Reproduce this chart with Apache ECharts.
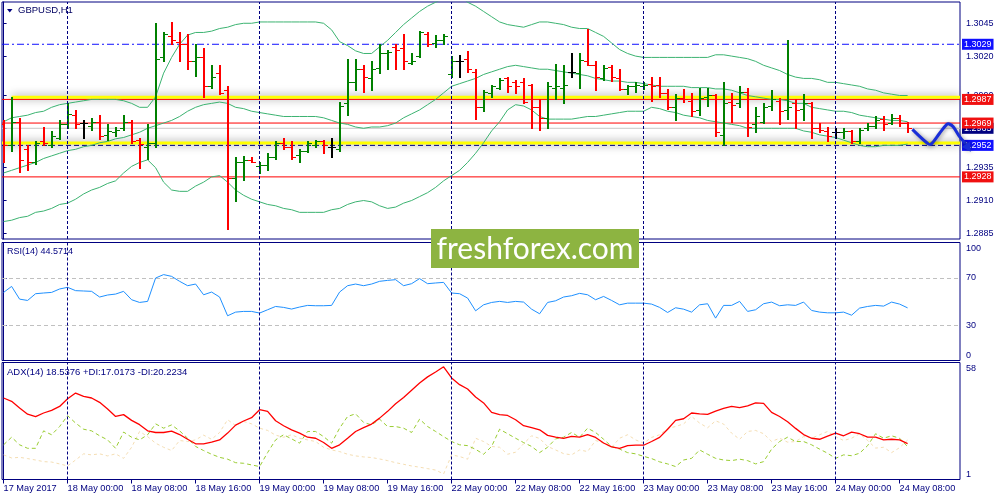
<!DOCTYPE html>
<html><head><meta charset="utf-8">
<script src="https://cdn.jsdelivr.net/npm/echarts@6/dist/echarts.min.js"></script>
<style>html,body{margin:0;padding:0;background:#fff}#c{width:1000px;height:500px}</style>
</head><body><div id="c"></div>
<script>
// ---------- data ----------
const timeTickIdx = [0, 8, 16, 24, 32, 40, 48, 56, 64, 72, 80, 88, 96, 104, 112];
const timeLabels = ['17 May 2017', '18 May 00:00', '18 May 08:00', '18 May 16:00', '19 May 00:00', '19 May 08:00', '19 May 16:00',
  '22 May 00:00', '22 May 08:00', '22 May 16:00', '23 May 00:00', '23 May 08:00', '23 May 16:00', '24 May 00:00', '24 May 08:00'];
const dayStartIdx = [8, 32, 56, 80, 104];
const priceTicks = [1.2885, 1.2910, 1.2935, 1.2965, 1.2990, 1.3020, 1.3045];
const rsiTicks = [0, 30, 70, 100];
const adxTicks = [1, 58];

const opens = [1.2968,1.2952,1.2970,1.2949,1.2939,1.2955,1.2952,1.2958,1.2968,1.2975,
1.2969,1.2967,1.2970,1.2960,1.2962,1.2965,1.2970,1.2956,1.2951,1.2954,
1.3019,1.3035,1.3031,1.3029,1.3016,1.3019,1.2997,1.3007,1.2994,1.2927,
1.2939,1.2941,1.2936,1.2937,1.2943,1.2954,1.2951,1.2945,1.2948,1.2952,
1.2955,1.2951,1.2949,1.2984,1.3000,1.3010,1.3003,1.3011,1.3022,1.3027,
1.3026,1.3015,1.3020,1.3037,1.3030,1.3032,1.3006,1.3016,1.3018,1.3008,
1.2981,1.2992,1.2996,1.3003,1.3000,1.3000,1.2998,1.2981,1.2973,1.2996,
1.2996,1.3008,1.3007,1.3016,1.3013,1.3003,1.3012,1.3003,1.2995,1.2997,
1.2997,1.2999,1.2998,1.2992,1.2981,1.2988,1.2986,1.2979,1.2989,1.2990,
1.2960,1.2985,1.2984,1.2993,1.2968,1.2970,1.2982,1.2986,1.2979,1.2984,
1.2980,1.2984,1.2965,1.2963,1.2962,1.2962,1.2963,1.2955,1.2965,1.2967,
1.2972,1.2969,1.2973,1.2969];
const highs = [1.2971,1.2989,1.2973,1.2952,1.2955,1.2966,1.2963,1.2971,1.2984,1.2979,
1.2971,1.2973,1.2975,1.2968,1.2966,1.2975,1.2971,1.2958,1.2968,1.3045,
1.3038,1.3046,1.3038,1.3037,1.3029,1.3026,1.3013,1.3013,1.2997,1.2943,
1.2944,1.2943,1.2939,1.2946,1.2955,1.2958,1.2955,1.2949,1.2955,1.2956,
1.2956,1.2958,1.2985,1.3018,1.3018,1.3013,1.3016,1.3029,1.3025,1.3029,
1.3037,1.3022,1.3039,1.3038,1.3036,1.3037,1.3020,1.3021,1.3024,1.3010,
1.2994,1.2998,1.3003,1.3004,1.3002,1.3003,1.2999,1.2987,1.3000,1.3014,
1.3013,1.3022,1.3022,1.3041,1.3016,1.3013,1.3013,1.3010,1.2998,1.3000,
1.3000,1.3004,1.3004,1.2995,1.2991,1.2995,1.2992,1.2996,1.2996,1.2991,
1.3000,1.2992,1.2997,1.2996,1.2981,1.2984,1.2994,1.2988,1.3032,1.2987,
1.2991,1.2985,1.2969,1.2966,1.2965,1.2965,1.2964,1.2965,1.2969,1.2974,
1.2974,1.2976,1.2975,1.2970];
const lows = [1.2939,1.2948,1.2932,1.2933,1.2938,1.2952,1.2951,1.2957,1.2965,1.2965,
1.2958,1.2964,1.2957,1.2956,1.2959,1.2964,1.2954,1.2935,1.2942,1.2951,
1.3016,1.3029,1.3016,1.3010,1.3005,1.2989,1.2996,1.2991,1.2888,1.2910,
1.2926,1.2939,1.2931,1.2933,1.2942,1.2949,1.2942,1.2939,1.2947,1.2951,
1.2946,1.2943,1.2948,1.2975,1.2994,1.2993,1.2994,1.3007,1.3010,1.3010,
1.3010,1.3014,1.3019,1.3028,1.3027,1.3029,1.3004,1.3004,1.3008,1.2972,
1.2978,1.2989,1.2995,1.2993,1.2992,1.2984,1.2965,1.2964,1.2965,1.2987,
1.2984,1.3004,1.2996,1.3013,1.2994,1.3002,1.3001,1.2994,1.2991,1.2993,
1.2995,1.2986,1.2989,1.2980,1.2971,1.2985,1.2974,1.2975,1.2982,1.2959,
1.2952,1.2970,1.2981,1.2959,1.2962,1.2969,1.2979,1.2968,1.2972,1.2965,
1.2971,1.2958,1.2962,1.2955,1.2958,1.2958,1.2954,1.2954,1.2964,1.2965,
1.2964,1.2968,1.2967,1.2962];
const closes = [1.2952,1.2970,1.2941,1.2939,1.2954,1.2954,1.2959,1.2968,1.2976,1.2968,
1.2969,1.2970,1.2959,1.2963,1.2964,1.2970,1.2955,1.2953,1.2954,1.3018,
1.3037,1.3032,1.3029,1.3016,1.3019,1.2997,1.3004,1.2992,1.2927,1.2939,
1.2941,1.2939,1.2937,1.2943,1.2954,1.2951,1.2943,1.2948,1.2954,1.2955,
1.2952,1.2951,1.2982,1.3000,1.3010,1.3004,1.3010,1.3022,1.3023,1.3025,
1.3016,1.3016,1.3038,1.3029,1.3032,1.3035,1.3016,1.3016,1.3010,1.2981,
1.2993,1.2997,1.3002,1.2997,1.2997,1.2985,1.2981,1.2973,1.2997,1.2997,
1.2998,1.3008,1.3017,1.3013,1.3004,1.3011,1.3004,1.2995,1.2997,1.2998,
1.2998,1.2997,1.2992,1.2981,1.2988,1.2987,1.2978,1.2988,1.2990,1.2962,
1.2984,1.2983,1.2993,1.2966,1.2974,1.2981,1.2987,1.2978,1.2981,1.2979,
1.2984,1.2965,1.2964,1.2959,1.2962,1.2963,1.2955,1.2964,1.2967,1.2971,
1.2968,1.2973,1.2969,1.2965];

const bbUpper = [1.2970,1.2973,1.2974,1.2975,1.2977,1.2978,1.2981,1.2983,1.2984,1.2985,
1.2986,1.2987,1.2987,1.2987,1.2987,1.2986,1.2984,1.2981,1.2981,1.2989,
1.3007,1.3019,1.3029,1.3036,1.3038,1.3038,1.3039,1.3041,1.3042,1.3044,
1.3045,1.3045,1.3046,1.3046,1.3046,1.3046,1.3046,1.3046,1.3046,1.3046,
1.3045,1.3040,1.3031,1.3028,1.3024,1.3022,1.3022,1.3027,1.3032,1.3038,
1.3044,1.3049,1.3054,1.3058,1.3061,1.3064,1.3067,1.3066,1.3061,1.3058,
1.3054,1.3050,1.3046,1.3044,1.3043,1.3042,1.3044,1.3046,1.3046,1.3045,
1.3044,1.3042,1.3041,1.3041,1.3038,1.3035,1.3030,1.3025,1.3022,1.3020,
1.3019,1.3019,1.3019,1.3019,1.3019,1.3019,1.3019,1.3019,1.3019,1.3021,
1.3021,1.3020,1.3019,1.3018,1.3016,1.3013,1.3011,1.3009,1.3006,1.3004,
1.3003,1.3003,1.3002,1.3000,1.3000,1.2999,1.2998,1.2997,1.2995,1.2994,
1.2992,1.2991,1.2990,1.2990];
const bbMiddle = [1.2931,1.2933,1.2935,1.2937,1.2939,1.2942,1.2944,1.2946,1.2948,1.2949,
1.2951,1.2952,1.2954,1.2955,1.2957,1.2958,1.2960,1.2962,1.2965,1.2967,
1.2969,1.2971,1.2974,1.2978,1.2981,1.2983,1.2984,1.2985,1.2984,1.2981,
1.2980,1.2978,1.2977,1.2976,1.2975,1.2974,1.2974,1.2974,1.2974,1.2974,
1.2973,1.2971,1.2969,1.2968,1.2966,1.2965,1.2966,1.2966,1.2967,1.2969,
1.2973,1.2976,1.2979,1.2983,1.2987,1.2992,1.2997,1.2999,1.3001,1.3003,
1.3006,1.3008,1.3010,1.3012,1.3013,1.3012,1.3011,1.3010,1.3010,1.3009,
1.3008,1.3007,1.3006,1.3005,1.3003,1.3002,1.3001,1.3001,1.3000,1.3000,
1.2999,1.2998,1.2997,1.2997,1.2997,1.2997,1.2996,1.2996,1.2996,1.2995,
1.2995,1.2994,1.2992,1.2990,1.2989,1.2988,1.2987,1.2987,1.2986,1.2984,
1.2984,1.2981,1.2980,1.2979,1.2978,1.2978,1.2977,1.2975,1.2974,1.2973,
1.2972,1.2971,1.2971,1.2970];
const bbLower = [1.2894,1.2895,1.2897,1.2898,1.2901,1.2902,1.2904,1.2907,1.2908,1.2911,
1.2915,1.2918,1.2920,1.2923,1.2925,1.2931,1.2936,1.2939,1.2941,1.2935,
1.2924,1.2918,1.2917,1.2917,1.2921,1.2924,1.2928,1.2929,1.2924,1.2918,
1.2914,1.2911,1.2909,1.2907,1.2906,1.2904,1.2903,1.2901,1.2901,1.2901,
1.2901,1.2903,1.2904,1.2907,1.2909,1.2910,1.2909,1.2906,1.2904,1.2905,
1.2908,1.2910,1.2913,1.2916,1.2920,1.2925,1.2929,1.2933,1.2939,1.2946,
1.2954,1.2963,1.2970,1.2979,1.2983,1.2982,1.2979,1.2974,1.2972,1.2972,
1.2972,1.2972,1.2973,1.2974,1.2974,1.2975,1.2976,1.2977,1.2978,1.2978,
1.2978,1.2981,1.2980,1.2978,1.2977,1.2975,1.2974,1.2973,1.2971,1.2970,
1.2969,1.2968,1.2967,1.2965,1.2965,1.2965,1.2965,1.2965,1.2965,1.2965,
1.2963,1.2962,1.2960,1.2959,1.2958,1.2956,1.2954,1.2952,1.2951,1.2951,
1.2952,1.2952,1.2952,1.2953];

const rsi = [57.7,62.8,52.0,50.9,56.6,57.2,57.7,60.6,62.0,59.2,
58.9,58.6,53.8,55.5,56.3,58.6,51.5,49.2,50.1,69.9,
72.8,71.3,67.1,63.4,64.8,55.7,58.0,53.8,37.9,41.0,
41.6,41.6,40.2,43.0,45.8,45.0,43.6,45.3,46.7,46.4,
46.4,46.7,58.0,63.4,64.8,63.4,64.8,67.1,67.9,68.5,
63.4,65.1,69.4,65.1,65.7,66.2,57.2,56.6,52.9,42.1,
47.2,49.2,50.1,49.2,50.1,49.5,43.5,39.6,49.2,50.6,
53.8,54.9,56.9,55.7,51.5,54.3,50.9,47.2,48.6,48.6,
48.6,47.8,45.0,40.7,44.7,43.5,41.0,47.2,48.1,35.9,
46.7,46.7,50.1,41.6,43.0,48.1,49.5,46.4,47.2,46.7,
49.5,42.4,41.0,40.4,40.4,41.0,38.4,44.4,45.8,46.7,
46.1,49.5,47.8,44.6];
const adx = [40.7,39.1,35.8,32.8,31.6,33.4,34.7,36.6,40.3,43.1,
41.5,40.7,38.6,35.3,31.7,32.6,29.8,27.7,24.7,23.9,
23.9,24.6,22.9,20.6,18.4,18.4,19.2,20.3,23.6,27.5,
29.5,31.1,35.0,34.2,29.6,27.2,25.2,23.6,21.6,21.1,
19.0,16.2,17.9,21.1,24.4,26.3,28.0,30.9,34.2,37.9,
41.0,44.5,48.0,51.0,53.4,55.9,50.5,47.2,45.1,41.2,
38.3,33.7,32.6,32.2,30.1,27.2,26.3,25.2,22.5,21.6,
21.0,22.0,21.6,22.9,21.5,18.8,16.9,16.2,17.5,17.7,
17.7,19.5,21.5,25.5,29.8,30.6,33.4,33.0,32.7,34.3,
35.6,36.6,36.0,36.9,38.3,38.1,33.7,31.7,29.1,25.9,
22.9,21.1,20.6,22.1,23.6,22.3,24.1,23.3,21.6,21.6,
20.3,20.6,20.3,18.5];
const plusDI = [17.9,21.6,17.9,16.2,16.2,24.7,22.8,26.8,32.1,28.5,
25.5,24.7,22.3,20.3,16.2,24.1,21.6,20.3,22.8,28.1,
26.0,27.6,24.7,21.1,17.1,15.1,13.3,11.8,10.9,9.2,
8.9,8.1,7.3,14.1,20.3,22.8,20.8,18.7,24.4,24.4,
21.9,18.7,26.0,31.7,33.0,28.8,27.6,30.4,26.8,26.8,
26.0,23.9,30.4,26.8,24.4,21.9,19.5,17.9,17.5,15.7,
13.3,17.1,25.5,23.3,21.1,19.0,17.1,14.1,16.7,20.8,
21.6,23.9,21.6,26.0,23.9,20.6,17.1,15.8,14.1,13.5,
12.3,11.2,9.6,8.6,7.3,10.5,11.3,15.4,13.3,11.3,
10.5,10.2,10.9,10.2,8.6,9.7,15.8,19.5,21.6,19.5,
19.5,17.9,15.8,13.8,11.3,13.0,12.6,13.8,17.5,23.3,
21.1,22.3,21.1,17.0];
const minusDI = [13.0,11.5,11.8,11.2,10.5,9.7,9.5,8.6,7.6,10.5,
13.5,13.0,13.5,12.5,13.5,11.3,16.7,24.4,21.9,18.7,
16.7,15.1,20.0,19.5,20.3,22.6,20.6,23.9,30.1,27.3,
29.3,28.1,26.0,24.9,22.6,21.6,22.8,21.1,20.3,19.5,
16.7,15.4,14.6,13.3,12.5,12.0,11.7,11.0,10.2,9.2,
8.4,7.6,7.0,6.3,5.6,3.7,13.0,12.2,10.9,21.1,
19.5,17.1,16.7,13.3,14.3,18.4,22.3,21.0,17.1,15.4,
13.6,13.0,15.4,14.6,20.0,18.7,16.7,21.1,22.8,20.3,
18.7,21.5,22.8,25.9,26.8,28.1,31.7,28.5,26.2,29.6,
28.0,23.6,20.6,24.4,24.9,23.3,19.5,21.1,19.2,19.5,
21.9,21.1,22.8,24.4,21.9,20.0,21.1,23.3,20.0,16.3,
16.7,14.1,16.5,20.2];

// horizontal levels
const levelBlueTop = 1.3029;
const levelRedTop = 1.2987;
const levelYellowTop = 1.29886;
const levelRedMid = 1.2969;
const levelBid = 1.2965;
const levelYellowLow = 1.29538;
const levelBlueLow = 1.2952;
const levelRedLow = 1.2928;
const yellowTopStartIdx = 1;

// hand-drawn arrow (bar index, price)
const arrowIdx = [113.6, 115.4, 115.9, 117.0, 117.9, 118.2, 118.7, 119.5, 120.2];
const arrowPrice = [1.29642, 1.29540, 1.29528, 1.29612, 1.29680, 1.29683, 1.29662, 1.29586, 1.29536];
const arrowTip = [120.9, 1.29472];

// ---------- chart ----------
const NAVY = '#000080';
const FONT = 'Liberation Sans';
const X_MIN = -0.2, X_MAX = 119.55;
const pairs = arr => arr.map((v, i) => [i, v]);
const barData = opens.map((o, i) => [i, o, highs[i], lows[i], closes[i]]);

const chart = echarts.init(document.getElementById('c'), null, { renderer: 'canvas' });

function renderBar(params, api) {
  const i = api.value(0), o = api.value(1), h = api.value(2), l = api.value(3), c = api.value(4);
  const pH = api.coord([i, h]), pL = api.coord([i, l]), pO = api.coord([i, o]), pC = api.coord([i, c]);
  const color = c > o ? '#008000' : (c < o ? '#ff0000' : '#000000');
  const x = Math.round(pH[0]);
  const yo = Math.round(pO[1]) + 0.5, yc = Math.round(pC[1]) + 0.5;
  return {
    type: 'group',
    children: [
      { type: 'line', shape: { x1: x, y1: Math.round(pH[1]), x2: x, y2: Math.round(pL[1]) + 1 }, style: { stroke: color, lineWidth: 2 } },
      { type: 'line', shape: { x1: x - 4, y1: yo, x2: x - 1, y2: yo }, style: { stroke: color, lineWidth: 1 } },
      { type: 'line', shape: { x1: x + 1, y1: yc, x2: x + 4, y2: yc }, style: { stroke: color, lineWidth: 1 } }
    ]
  };
}

// horizontal level drawn as a two-point line series, price box via endLabel
function hLevel(name, value, xStart, lineStyle, labelBg, z) {
  return {
    name: name, type: 'line', xAxisIndex: 0, yAxisIndex: 0, silent: true, z: z,
    data: [[xStart, value], [X_MAX, value]], symbol: 'none', clip: false,
    color: lineStyle.color, lineStyle: lineStyle,
    endLabel: labelBg ? {
      show: true, distance: 2, formatter: p => Number(p.value[1]).toFixed(4),
      backgroundColor: labelBg, color: '#ffffff', padding: [1, 2, 0, 2],
      fontSize: 9, fontFamily: FONT, lineHeight: 10
    } : { show: false }
  };
}
function dayLines(gi, z) {
  return {
    name: 'day separators ' + gi, type: 'line', xAxisIndex: gi, yAxisIndex: gi, data: [], silent: true, z: z,
    markLine: {
      symbol: ['none', 'none'], silent: true, animation: false, precision: 3, label: { show: false },
      lineStyle: { color: NAVY, width: 1, type: [3, 2], opacity: 1 },
      data: dayStartIdx.map(v => ({ xAxis: v }))
    }
  };
}
const yellowStyle = { color: '#ffff00', width: 3, type: 'solid', opacity: 1, shadowBlur: 8, shadowColor: 'rgba(0,0,0,0.5)' };

const yAxisCommon = {
  type: 'value', position: 'right', scale: false,
  axisLine: { show: true, lineStyle: { color: NAVY, width: 1 } },
  splitLine: { show: false }
};
const tickLabel = (vals, fmt, extra) => Object.assign({
  customValues: vals, formatter: fmt, fontSize: 9, fontFamily: FONT, color: NAVY, margin: 6
}, extra || {});

const option = {
  animation: false,
  backgroundColor: '#ffffff',
  title: [
    { text: 'GBPUSD,H1', left: 18, top: 5, padding: 0, textStyle: { fontSize: 9.5, color: '#000060', fontWeight: 'normal', fontFamily: FONT } },
    { text: 'RSI(14) 44.5714', left: 7, top: 247, padding: 0, textStyle: { fontSize: 9, color: NAVY, fontWeight: 'normal', fontFamily: FONT } },
    { text: 'ADX(14) 18.5376 +DI:17.0173 -DI:20.2234', left: 7, top: 367, padding: 0, textStyle: { fontSize: 9.5, color: NAVY, fontWeight: 'normal', fontFamily: FONT } }
  ],
  grid: [
    { left: 2, top: 2, width: 958, height: 237 },
    { left: 2, top: 242.5, width: 958, height: 118 },
    { left: 2, top: 362.5, width: 958, height: 117 }
  ].map(g => Object.assign(g, { show: true, borderColor: NAVY, borderWidth: 1, backgroundColor: '#ffffff' })),
  xAxis: [0, 1, 2].map(gi => ({
    type: 'value', gridIndex: gi, min: X_MIN, max: X_MAX,
    axisLine: { show: false }, splitLine: { show: false },
    axisTick: gi === 2 ? { show: true, customValues: timeTickIdx, length: 4, lineStyle: { color: NAVY } } : { show: false },
    axisLabel: gi === 2 ? {
      show: true, customValues: timeTickIdx,
      formatter: v => timeLabels[timeTickIdx.indexOf(Math.round(v))] || '',
      align: 'left', margin: 4, fontSize: 9.2, fontFamily: FONT, color: NAVY
    } : { show: false }
  })),
  yAxis: [
    Object.assign({}, yAxisCommon, {
      gridIndex: 0, min: 1.28807, max: 1.30612,
      axisTick: { show: true, customValues: priceTicks, length: 3, lineStyle: { color: NAVY } },
      axisLabel: tickLabel(priceTicks, v => v.toFixed(4))
    }),
    Object.assign({}, yAxisCommon, {
      gridIndex: 1, min: 0, max: 100,
      axisTick: { show: true, customValues: rsiTicks, length: 3, lineStyle: { color: NAVY } },
      axisLabel: tickLabel(rsiTicks, v => String(Math.round(v)), { verticalAlignMinLabel: 'bottom', verticalAlignMaxLabel: 'top', padding: [2, 0, 0, 0] })
    }),
    Object.assign({}, yAxisCommon, {
      gridIndex: 2, min: 1, max: 58,
      axisTick: { show: true, customValues: adxTicks, length: 3, lineStyle: { color: NAVY } },
      axisLabel: tickLabel(adxTicks, v => String(Math.round(v)), { verticalAlignMinLabel: 'bottom', verticalAlignMaxLabel: 'top', padding: [2, 0, 0, 0] })
    })
  ],
  series: [
    hLevel('yellow top', levelYellowTop, yellowTopStartIdx, yellowStyle, null, 1),
    hLevel('yellow low', levelYellowLow, X_MIN, yellowStyle, null, 1),
    dayLines(0, 2),
    hLevel('bid', levelBid, X_MIN, { color: '#c8c8c8', width: 1, type: 'solid' }, '#000080', 2),
    hLevel('blue top', levelBlueTop, X_MIN, { color: '#1010ff', width: 1, type: [7, 3, 2, 3] }, '#1010ff', 2),
    hLevel('red top', levelRedTop, X_MIN, { color: '#ff0000', width: 1, type: 'solid' }, '#f01010', 2),
    hLevel('red mid', levelRedMid, X_MIN, { color: '#ff0000', width: 1, type: 'solid' }, '#f01010', 2),
    hLevel('navy low', levelBlueLow, X_MIN, { color: NAVY, width: 1, type: [5, 3] }, '#1010ff', 2),
    hLevel('red low', levelRedLow, X_MIN, { color: '#ff0000', width: 1, type: 'solid' }, '#f01010', 2),
    { name: 'BB upper', type: 'line', xAxisIndex: 0, yAxisIndex: 0, data: pairs(bbUpper), symbol: 'none', lineStyle: { color: '#3cb371', width: 1 }, z: 3 },
    { name: 'BB middle', type: 'line', xAxisIndex: 0, yAxisIndex: 0, data: pairs(bbMiddle), symbol: 'none', lineStyle: { color: '#3cb371', width: 1 }, z: 3 },
    { name: 'BB lower', type: 'line', xAxisIndex: 0, yAxisIndex: 0, data: pairs(bbLower), symbol: 'none', lineStyle: { color: '#3cb371', width: 1 }, z: 3 },
    { name: 'GBPUSD', type: 'custom', xAxisIndex: 0, yAxisIndex: 0, data: barData, renderItem: renderBar, clip: true, z: 4,
      encode: { x: 0, y: [1, 2, 3, 4] } },
    {
      name: 'rsi levels', type: 'line', xAxisIndex: 1, yAxisIndex: 1, data: [], silent: true, z: 1,
      markLine: { symbol: ['none', 'none'], silent: true, animation: false, precision: 3, label: { show: false },
        lineStyle: { color: '#c0c0c0', width: 1, type: [4, 3], opacity: 1 }, data: [{ yAxis: 30 }, { yAxis: 70 }] }
    },
    dayLines(1, 2),
    { name: 'RSI', type: 'line', xAxisIndex: 1, yAxisIndex: 1, data: pairs(rsi), symbol: 'none', lineStyle: { color: '#1e90ff', width: 1 }, z: 3 },
    dayLines(2, 1),
    { name: '-DI', type: 'line', xAxisIndex: 2, yAxisIndex: 2, data: pairs(minusDI), symbol: 'none', lineStyle: { color: '#f5deb3', width: 1, type: [3, 3] }, z: 2 },
    { name: '+DI', type: 'line', xAxisIndex: 2, yAxisIndex: 2, data: pairs(plusDI), symbol: 'none', lineStyle: { color: '#9acd32', width: 1, type: [4, 3] }, z: 3 },
    { name: 'ADX', type: 'line', xAxisIndex: 2, yAxisIndex: 2, data: pairs(adx), symbol: 'none', lineStyle: { color: '#ff0000', width: 1.3 }, z: 4 }
  ]
};
chart.setOption(option);

// annotations: arrow, watermark, title triangle
const px = (i, p) => chart.convertToPixel({ gridIndex: 0 }, [i, p]);
const arrowPts = arrowIdx.map((v, k) => px(v, arrowPrice[k]));
const tip = px(arrowTip[0], arrowTip[1]);
const prev = arrowPts[arrowPts.length - 1];
let dx = tip[0] - prev[0], dy = tip[1] - prev[1];
const len = Math.hypot(dx, dy); dx /= len; dy /= len;
const bx = tip[0] - 9 * dx, by = tip[1] - 9 * dy;
const head = [[tip[0], tip[1]], [bx - 5 * dy, by + 5 * dx], [bx + 5 * dy, by - 5 * dx]];

chart.setOption({
  graphic: [
    { type: 'polygon', z: 100, shape: { points: [[7, 9], [12.5, 9], [9.75, 12.5]] }, style: { fill: NAVY } },
    { type: 'polyline', z: 100, shape: { points: arrowPts.concat([[bx, by]]), smooth: 0.35 },
      style: { stroke: '#1a2ed8', lineWidth: 3, fill: null, shadowBlur: 4, shadowColor: 'rgba(0,0,0,0.4)', shadowOffsetX: 1, shadowOffsetY: 1 } },
    { type: 'polygon', z: 100, shape: { points: head }, style: { fill: '#1a2ed8', shadowBlur: 4, shadowColor: 'rgba(0,0,0,0.4)' } },
    { type: 'rect', z: 100, shape: { x: 431, y: 229, width: 208, height: 39 }, style: { fill: '#8db441' } },
    { type: 'text', z: 101, x: 535, y: 249, style: { text: 'freshforex.com', fill: '#ffffff', fontSize: 30, fontFamily: 'Lato', align: 'center', verticalAlign: 'middle' } }
  ]
});
</script></body></html>
